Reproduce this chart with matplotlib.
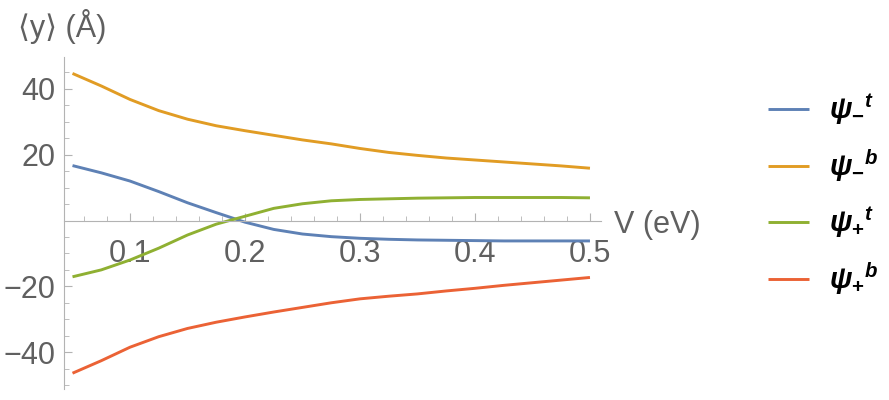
import matplotlib.pyplot as plt
import numpy as np
from matplotlib.ticker import MultipleLocator, FixedLocator

# data (V in eV, <y> in Angstrom)
V = [0.05, 0.075, 0.1, 0.125, 0.15, 0.175, 0.2, 0.225, 0.25, 0.275,
     0.3, 0.325, 0.35, 0.375, 0.4, 0.425, 0.45, 0.475, 0.5]
psi_minus_t = [16.7, 14.5, 12.0, 8.8, 5.4, 2.4, -0.5, -2.7, -4.1, -4.9,
               -5.4, -5.7, -5.9, -6.0, -6.1, -6.2, -6.2, -6.2, -6.2]
psi_minus_b = [44.7, 40.9, 36.8, 33.4, 30.8, 28.8, 27.3, 25.9, 24.5, 23.3,
               21.9, 20.7, 19.8, 19.0, 18.4, 17.8, 17.2, 16.6, 15.9]
psi_plus_t = [-17.1, -15.0, -12.0, -8.4, -4.4, -1.1, 1.3, 3.7, 5.1, 6.0,
              6.4, 6.6, 6.8, 6.9, 7.0, 7.0, 7.0, 7.0, 6.9]
psi_plus_b = [-46.4, -42.6, -38.5, -35.3, -32.8, -30.9, -29.3, -27.8, -26.4, -25.0,
              -23.8, -23.0, -22.3, -21.4, -20.6, -19.7, -18.9, -18.1, -17.3]

labels = [r'$\psi_{-}{}^{t}$', r'$\psi_{-}{}^{b}$', r'$\psi_{+}{}^{t}$', r'$\psi_{+}{}^{b}$']
colors = ['#5E81B5', '#E19C24', '#8FB032', '#EB6235']

plt.rcParams['font.family'] = ['Liberation Sans', 'DejaVu Sans']
plt.rcParams['mathtext.fontset'] = 'custom'
plt.rcParams['mathtext.it'] = 'Liberation Sans:bold:italic'
plt.rcParams['mathtext.rm'] = 'Liberation Sans:bold'
plt.rcParams['mathtext.bf'] = 'Liberation Sans:bold'

fig = plt.figure(figsize=(8.89, 4.0), dpi=100)
ax = fig.add_axes([64/889, 11/400, (601-64)/889, (389-57)/400])

for ys, c, lab in zip([psi_minus_t, psi_minus_b, psi_plus_t, psi_plus_b], colors, labels):
    ax.plot(V, ys, color=c, lw=2.1, label=lab, solid_capstyle='butt')

ax.set_xlim(0.0426, 0.5096)
ax.set_ylim(-51.2, 49.7)

gray = '#b3b3b3'
txt = '#606060'
ax.spines['top'].set_visible(False)
ax.spines['right'].set_visible(False)
ax.spines['bottom'].set_position(('data', 0))
ax.spines['left'].set_color(gray)
ax.spines['bottom'].set_color(gray)
ax.spines['left'].set_linewidth(0.8)
ax.spines['bottom'].set_linewidth(0.8)

ax.xaxis.set_major_locator(FixedLocator([0.1, 0.2, 0.3, 0.4, 0.5]))
ax.xaxis.set_minor_locator(FixedLocator(np.arange(0.06, 0.51, 0.02)))
ax.yaxis.set_major_locator(FixedLocator([-40, -20, 20, 40]))
ax.yaxis.set_minor_locator(MultipleLocator(5))
ax.set_xticklabels(['0.1', '0.2', '0.3', '0.4', '0.5'])
ax.set_yticklabels(['\u221240', '\u221220', '20', '40'])

ax.tick_params(axis='both', which='major', direction='in', length=6, width=0.8,
               color=gray, labelcolor=txt, labelsize=22)
ax.tick_params(axis='both', which='minor', direction='in', length=3.5, width=0.6, color=gray)
ax.tick_params(axis='x', which='major', pad=13)
ax.tick_params(axis='y', which='major', pad=6)

fig.text(18/889, 1 - 26/400, '\u27e8y\u27e9 (\u00c5)', fontsize=22, color=txt,
         va='center', ha='left')
fig.text(614/889, 1 - 225/400, 'V (eV)', fontsize=22, color=txt, va='center', ha='left')

leg = fig.legend(loc='upper left', bbox_to_anchor=(768/889, 1 - 92/400), frameon=False,
                 fontsize=21, handlelength=1.4, handletextpad=0.7, labelspacing=0.7,
                 borderaxespad=0, borderpad=0)
for h in leg.get_lines():
    h.set_linewidth(2.1)

fig.savefig('out.png', dpi=100)
